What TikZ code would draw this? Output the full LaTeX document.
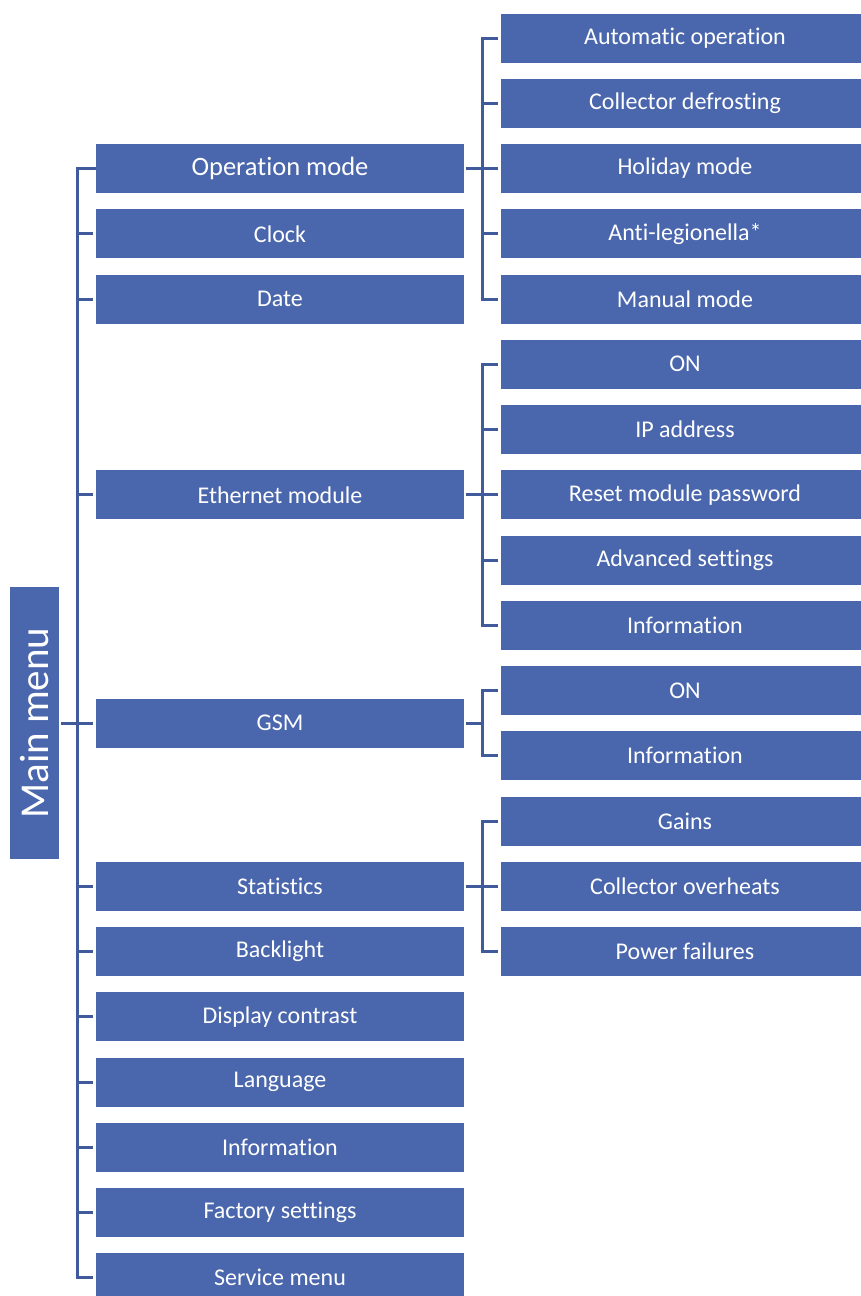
\documentclass[tikz,border=0pt]{standalone}
\usepackage{fontspec}
\setmainfont{Carlito}[Ligatures=NoCommon]
\definecolor{boxblue}{HTML}{4A66AC}
\definecolor{lineblue}{HTML}{3F5B9B}
\tikzset{
  menubox/.style={fill=boxblue, text=white, inner sep=0pt, minimum width=368pt, minimum height=49pt, font=\fontsize{24}{28}\selectfont},
  subbox/.style={menubox},
  link/.style={draw=lineblue, line width=3pt},
}
\begin{document}
\begin{tikzpicture}[x=1pt, y=-1pt]
    \useasboundingbox (0,0) rectangle (860,1296);
    \coordinate (trunk) at (77.5,0);
    \coordinate (subtrunk) at (482.5,0);
    % main menu
    \node[menubox, minimum width=272pt, rotate=90, font=\fontsize{41}{48}\selectfont] (main) at (34.5,723.1) {Main menu};
    % first level
    \node[menubox, font=\fontsize{26.5}{30}\selectfont] (opmode) at (280,168.5) {Operation mode};
    \foreach \name/\y/\label in {
        clock/233.75/Clock,
        date/299/Date,
        ethernet/494.75/Ethernet module,
        gsm/723.1/GSM,
        stats/886.25/Statistics,
        backlight/951.5/Backlight,
        contrast/1016.75/Display contrast,
        language/1082/Language,
        info/1147.25/Information,
        factory/1212.5/Factory settings,
        service/1277.75/Service menu
    } {
        \node[menubox] (\name) at (280,\y) {\label};
    }
    % second level
    \foreach \name/\y/\label in {
        auto/38/Automatic operation,
        defrost/103.25/Collector defrosting,
        holiday/168.5/Holiday mode,
        legio/233.75/Anti-legionella*,
        manual/299/Manual mode,
        ethon/364.25/ON,
        ipaddr/429.5/IP address,
        resetpw/494.75/Reset module password,
        advanced/560/Advanced settings,
        ethinfo/625.25/Information,
        gsmon/690.5/ON,
        gsminfo/755.75/Information,
        gains/821/Gains,
        overheat/886.25/Collector overheats,
        powerfail/951.5/Power failures
    } {
        \node[subbox] (\name) at (685,\y) {\label};
    }
    % main tree
    \draw[link, shorten >=3pt] (opmode.west) -- (opmode.west -| trunk) -- (service.west -| trunk) -- (service.west);
    \foreach \name in {clock,date,ethernet,gsm,stats,backlight,contrast,language,info,factory} {
        \draw[link, shorten >=3pt] (\name.west -| trunk) -- (\name.west);
    }
    \draw[link, shorten <=2pt, shorten >=3pt] (main) -- (gsm);
    % sub trees
    \foreach \parent/\first/\last in {opmode/auto/manual, ethernet/ethon/ethinfo, gsm/gsmon/gsminfo, stats/gains/powerfail} {
        \draw[link, shorten <=2pt] (\parent.east) -- (\parent.east -| subtrunk);
        \draw[link, shorten <=3pt, shorten >=3pt] (\first.west) -- (\first.west -| subtrunk) -- (\last.west -| subtrunk) -- (\last.west);
    }
    \foreach \name in {defrost,holiday,legio,ipaddr,resetpw,advanced,overheat} {
        \draw[link, shorten >=3pt] (\name.west -| subtrunk) -- (\name.west);
    }
\end{tikzpicture}
\end{document}
